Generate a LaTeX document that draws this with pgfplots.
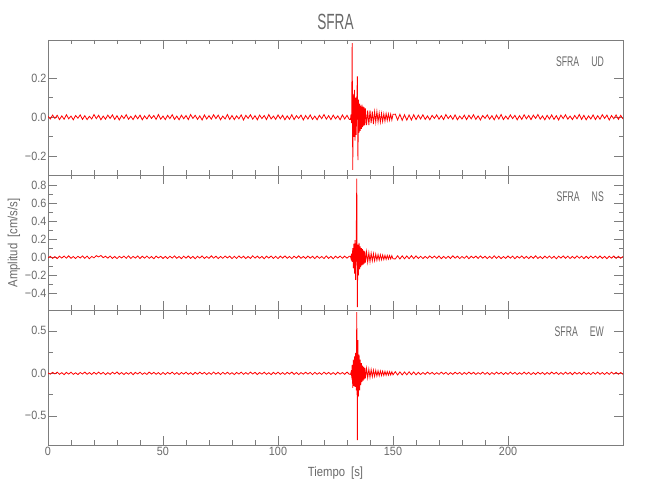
\documentclass[border=0pt]{standalone}
\usepackage{fontspec}
\setmainfont{Liberation Sans}
\newfontfamily\tickfam{Liberation Sans}[FakeStretch=0.9]
\newfontfamily\narrowfam{Liberation Sans}[FakeStretch=0.62]
\newfontfamily\medfam{Liberation Sans}[FakeStretch=0.85]
\usepackage{pgfplots}
\usepackage{pgfplotstable}
\pgfplotsset{compat=1.18}
\definecolor{axgray}{RGB}{125,125,125}
\definecolor{txtgray}{RGB}{105,105,105}
\newcommand\tickfont{\tickfam\fontsize{12}{12}\selectfont}

\pgfplotstableread{
t ud ns ew
0 0.004 -0.006 0.005
1 -0.009 0.011 -0.010
2 0.011 -0.013 0.012
3 -0.006 0.008 -0.007
4 0.010 -0.015 0.014
5 -0.012 0.012 -0.011
6 0.007 -0.009 0.008
7 -0.010 0.014 -0.015
8 0.013 -0.010 0.011
9 -0.008 0.016 -0.009
10 0.006 -0.012 0.013
11 -0.013 0.009 -0.012
12 0.009 -0.014 0.007
13 -0.005 0.011 -0.014
14 0.012 -0.008 0.010
15 -0.011 0.015 -0.008
16 0.008 -0.011 0.015
17 -0.012 0.013 -0.011
18 0.005 -0.016 0.009
19 -0.009 0.010 -0.013
20 0.014 -0.007 0.012
21 -0.007 0.018 -0.010
22 0.010 0.004 0.014
23 -0.013 0.020 -0.009
24 0.006 -0.005 0.011
25 -0.010 0.012 -0.015
26 0.011 -0.010 0.008
27 -0.006 0.014 -0.012
28 0.012 -0.012 0.013
29 -0.011 0.009 -0.007
30 0.008 -0.015 0.016
31 -0.014 0.011 -0.011
32 0.009 -0.008 0.010
33 -0.007 0.013 -0.014
34 0.013 -0.011 0.009
35 -0.010 0.016 -0.010
36 0.005 -0.013 0.012
37 -0.012 0.010 -0.016
38 0.010 -0.009 0.011
39 -0.008 0.015 -0.008
40 0.011 -0.014 0.014
41 -0.013 0.012 -0.012
42 0.007 -0.010 0.007
43 -0.009 0.014 -0.013
44 0.012 -0.012 0.015
45 -0.006 0.009 -0.009
46 0.009 -0.016 0.012
47 -0.011 0.013 -0.011
48 0.014 -0.008 0.009
49 -0.010 0.011 -0.015
50 0.006 -0.013 0.010
51 -0.012 0.010 -0.013
52 0.010 -0.014 0.011
53 -0.007 0.012 -0.008
54 0.013 -0.009 0.014
55 -0.011 0.015 -0.012
56 0.006 -0.011 0.009
57 -0.013 0.009 -0.014
58 0.011 -0.015 0.010
59 -0.008 0.013 -0.009
60 0.009 -0.010 0.013
61 -0.012 0.014 -0.011
62 0.014 -0.012 0.008
63 -0.006 0.010 -0.015
64 0.010 -0.016 0.012
65 -0.011 0.011 -0.010
66 0.007 -0.009 0.014
67 -0.014 0.015 -0.008
68 0.012 -0.013 0.011
69 -0.009 0.008 -0.013
70 0.008 -0.012 0.009
71 -0.010 0.016 -0.012
72 0.013 -0.010 0.015
73 -0.007 0.012 -0.009
74 0.011 -0.014 0.010
75 -0.013 0.010 -0.014
76 0.006 -0.011 0.012
77 -0.009 0.014 -0.010
78 0.014 -0.008 0.013
79 -0.011 0.013 -0.011
80 0.009 -0.015 0.008
81 -0.012 0.011 -0.015
82 0.007 -0.012 0.011
83 -0.008 0.015 -0.009
84 0.012 -0.009 0.014
85 -0.014 0.012 -0.012
86 0.010 -0.014 0.009
87 -0.006 0.009 -0.011
88 0.013 -0.013 0.015
89 -0.010 0.016 -0.008
90 0.008 -0.010 0.012
91 -0.013 0.013 -0.014
92 0.011 -0.011 0.010
93 -0.007 0.010 -0.009
94 0.009 -0.016 0.013
95 -0.012 0.012 -0.012
96 0.014 -0.009 0.008
97 -0.009 0.014 -0.015
98 0.006 -0.012 0.011
99 -0.011 0.011 -0.010
100 0.012 -0.015 0.014
101 -0.008 0.013 -0.011
102 0.010 -0.010 0.009
103 -0.013 0.015 -0.013
104 0.007 -0.011 0.012
105 -0.010 0.009 -0.008
106 0.013 -0.014 0.015
107 -0.012 0.012 -0.012
108 0.008 -0.009 0.010
109 -0.006 0.016 -0.014
110 0.011 -0.012 0.009
111 -0.014 0.010 -0.010
112 0.009 -0.013 0.013
113 -0.009 0.014 -0.009
114 0.012 -0.010 0.011
115 -0.011 0.011 -0.015
116 0.006 -0.015 0.012
117 -0.013 0.013 -0.011
118 0.010 -0.011 0.008
119 -0.007 0.009 -0.013
120 0.014 -0.014 0.014
121 -0.010 0.015 -0.010
122 0.008 -0.012 0.011
123 -0.012 0.010 -0.012
124 0.011 -0.016 0.009
125 -0.008 0.012 -0.014
126 0.007 -0.009 0.013
127 -0.013 0.014 -0.009
128 0.012 -0.011 0.010
129 -0.009 0.013 -0.012
130 0.010 -0.010 0.015
131 -0.011 0.012 -0.011
131.5 -0.012 0.012 -0.012
131.75 0.015 -0.015 0.014
132.0 -0.030 0.040 -0.030
132.25 0.380 -0.050 0.100
132.5 -0.270 0.100 -0.170
132.75 0.120 -0.120 0.160
133.0 -0.100 0.150 -0.150
133.25 0.140 -0.180 0.200
133.5 -0.120 0.190 -0.160
133.75 0.100 -0.250 0.240
134.0 -0.090 0.170 -0.200
134.25 0.080 0.870 0.720
134.5 0.210 -0.550 -0.785
134.75 -0.220 0.140 0.390
135.0 0.090 -0.200 -0.270
135.25 -0.080 0.160 0.220
135.5 0.070 -0.130 -0.200
135.75 -0.070 0.120 0.160
136.0 0.060 -0.110 -0.140
136.25 -0.060 0.100 0.120
136.5 0.065 -0.090 -0.100
136.75 -0.050 0.090 0.090
137.0 0.055 -0.080 -0.085
137.25 -0.045 0.075 0.080
137.5 0.050 -0.070 -0.070
137.75 -0.040 0.065 0.065
138.0 0.045 -0.060 -0.060
138.5 -0.040 0.060 0.058
139 0.035 -0.055 -0.052
139.5 -0.040 0.050 0.050
140 0.035 -0.050 -0.046
140.5 -0.030 0.045 0.044
141 0.030 -0.040 -0.040
141.5 -0.035 0.040 0.038
142 0.028 -0.038 -0.036
142.5 -0.025 0.035 0.034
143 0.030 -0.033 -0.032
143.5 -0.024 0.030 0.030
144 0.022 -0.030 -0.029
144.5 -0.025 0.028 0.028
145 0.020 -0.027 -0.026
145.5 -0.022 0.025 0.025
146 0.018 -0.025 -0.024
146.5 -0.020 0.022 0.023
147 0.019 -0.023 -0.022
147.5 -0.016 0.020 0.021
148 0.017 -0.020 -0.020
148.5 -0.015 0.019 0.020
149 0.016 -0.018 -0.019
149.5 -0.014 0.018 0.019
150 0.015 -0.017 -0.018
151 0.016 -0.018 0.020
152 -0.014 0.017 -0.019
153 0.015 -0.019 0.017
154 -0.016 0.016 -0.018
155 0.013 -0.017 0.016
156 -0.015 0.015 -0.017
157 0.012 -0.016 0.018
158 -0.014 0.018 -0.015
159 0.013 -0.015 0.016
160 -0.012 0.016 -0.017
161 0.011 -0.013 0.012
162 -0.009 0.011 -0.014
163 0.013 -0.014 0.010
164 -0.011 0.010 -0.012
165 0.007 -0.012 0.015
166 -0.013 0.015 -0.009
167 0.010 -0.009 0.011
168 -0.006 0.013 -0.013
169 0.012 -0.011 0.008
170 -0.010 0.014 -0.011
171 0.008 -0.015 0.014
172 -0.012 0.010 -0.010
173 0.014 -0.012 0.012
174 -0.007 0.011 -0.015
175 0.009 -0.013 0.009
176 -0.011 0.016 -0.012
177 0.012 -0.010 0.013
178 -0.013 0.012 -0.008
179 0.006 -0.014 0.011
180 -0.009 0.009 -0.014
181 0.011 -0.011 0.010
182 -0.012 0.014 -0.011
183 0.010 -0.016 0.015
184 -0.008 0.012 -0.009
185 0.013 -0.009 0.012
186 -0.011 0.013 -0.013
187 0.007 -0.012 0.008
188 -0.014 0.015 -0.010
189 0.009 -0.010 0.014
190 -0.006 0.011 -0.012
191 0.012 -0.014 0.011
192 -0.010 0.010 -0.015
193 0.008 -0.013 0.009
194 -0.013 0.016 -0.011
195 0.011 -0.011 0.013
196 -0.009 0.012 -0.008
197 0.014 -0.015 0.012
198 -0.012 0.009 -0.014
199 0.006 -0.012 0.010
200 -0.010 0.014 -0.012
201 0.012 -0.010 0.015
202 -0.007 0.013 -0.009
203 0.010 -0.016 0.011
204 -0.013 0.011 -0.013
205 0.008 -0.009 0.008
206 -0.011 0.015 -0.011
207 0.013 -0.012 0.014
208 -0.008 0.010 -0.010
209 0.009 -0.014 0.012
210 -0.012 0.012 -0.015
211 0.011 -0.011 0.009
212 -0.006 0.016 -0.012
213 0.014 -0.013 0.013
214 -0.010 0.009 -0.009
215 0.007 -0.015 0.011
216 -0.013 0.013 -0.014
217 0.010 -0.010 0.010
218 -0.009 0.014 -0.011
219 0.012 -0.012 0.015
220 -0.011 0.011 -0.008
221 0.008 -0.016 0.012
222 -0.014 0.012 -0.013
223 0.011 -0.009 0.009
224 -0.007 0.015 -0.012
225 0.013 -0.011 0.014
226 -0.010 0.013 -0.010
227 0.006 -0.014 0.011
228 -0.012 0.010 -0.015
229 0.009 -0.012 0.013
230 -0.008 0.016 -0.009
231 0.014 -0.010 0.010
232 -0.011 0.012 -0.012
233 0.010 -0.015 0.014
234 -0.013 0.011 -0.011
235 0.007 -0.013 0.008
236 -0.009 0.014 -0.014
237 0.012 -0.009 0.012
238 -0.012 0.013 -0.010
239 0.008 -0.011 0.015
240 -0.010 0.015 -0.011
241 0.013 -0.012 0.009
242 -0.006 0.010 -0.013
243 0.011 -0.016 0.011
244 -0.014 0.012 -0.012
245 0.009 -0.010 0.014
246 -0.008 0.014 -0.009
247 0.012 -0.013 0.012
248 -0.011 0.011 -0.011
249 0.010 -0.012 0.010
250 -0.009 0.010 -0.012
}\data

\pgfplotsset{panel/.style={
  width=575pt, height=135pt, scale only axis,
  anchor=south west,
  xmin=0, xmax=250,
  xtick={0,50,100,150,200},
  minor x tick num=4,
  minor y tick num=1,
  tick align=inside,
  major tick length=9pt,
  minor tick length=4.5pt,
  axis line style={draw=axgray, line width=0.6pt},
  tick style={draw=axgray, line width=0.6pt},
  xticklabels={},
  yticklabel style={font=\tickfont, text=txtgray, inner xsep=1.5pt},
  xticklabel style={font=\tickfont, text=txtgray, inner ysep=2pt},
}}

\begin{document}
\begin{tikzpicture}
\useasboundingbox (-48pt,-55pt) rectangle (602pt,445pt);

\begin{axis}[panel, at={(0pt,270pt)},
  ymin=-0.296, ymax=0.396,
  ytick={-0.2,0,0.2},
  yticklabels={−0.2,0.0,0.2}]
\addplot[red, line width=0.8pt] table[x=t,y=ud]{\data};
\end{axis}

\begin{axis}[panel, at={(0pt,135pt)},
  ymin=-0.583, ymax=0.91,
  ytick={-0.4,-0.2,0,0.2,0.4,0.6,0.8},
  yticklabels={−0.4,−0.2,0.0,0.2,0.4,0.6,0.8}]
\addplot[red, line width=0.8pt] table[x=t,y=ns]{\data};
\end{axis}

\begin{axis}[panel, at={(0pt,0pt)},
  ymin=-0.843, ymax=0.745,
  ytick={-0.5,0,0.5},
  minor y tick num=1,
  yticklabels={−0.5,0.0,0.5},
  xticklabels={0,50,100,150,200}]
\addplot[red, line width=0.8pt] table[x=t,y=ew]{\data};
\end{axis}

\node[text=txtgray, font=\narrowfam\fontsize{22}{22}\selectfont] at (287.5pt,423pt) {SFRA};
\node[text=txtgray, font=\medfam\fontsize{13.3}{13.3}\selectfont] at (287.5pt,-28pt) {Tiempo\hspace{6pt}[s]};
\node[text=txtgray, rotate=90, font=\medfam\fontsize{13.3}{13.3}\selectfont] at (-34pt,202pt) {Amplitud\hspace{6pt}[cm/s/s]};

\node[anchor=east, inner sep=0pt, text=txtgray, font=\narrowfam\fontsize{14}{14}\selectfont] at (556pt,383.3pt) {SFRA\hspace{12pt}UD};
\node[anchor=east, inner sep=0pt, text=txtgray, font=\narrowfam\fontsize{14}{14}\selectfont] at (556pt,248pt) {SFRA\hspace{12pt}NS};
\node[anchor=east, inner sep=0pt, text=txtgray, font=\narrowfam\fontsize{14}{14}\selectfont] at (556pt,113pt) {SFRA\hspace{12pt}EW};
\end{tikzpicture}
\end{document}
